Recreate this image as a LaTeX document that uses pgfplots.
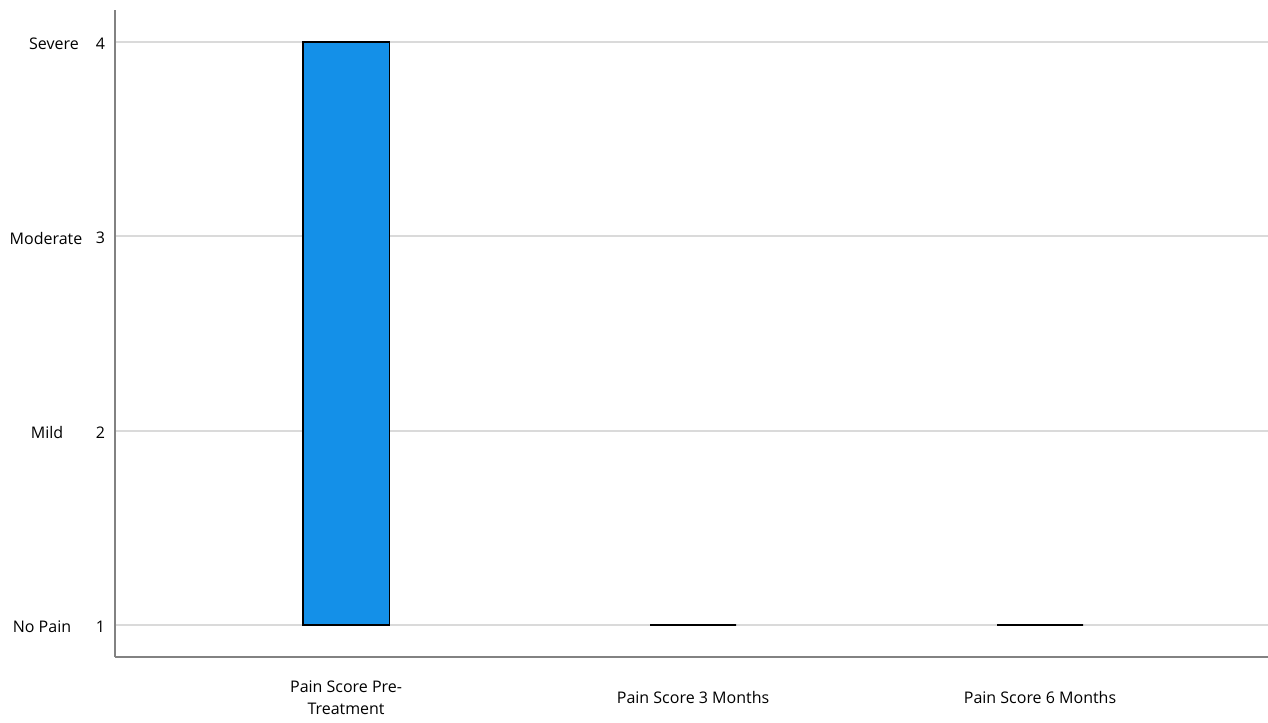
\documentclass[border=0pt]{standalone}
\usepackage{fontspec}
\setmainfont{Open Sans}
\usepackage{pgfplots}
\pgfplotsset{compat=1.18}
\usepgfplotslibrary{statistics}
\definecolor{boxblue}{RGB}{20,144,232}
\definecolor{gridgray}{RGB}{218,218,218}
\definecolor{axisgray}{RGB}{130,130,130}
\newcommand\lblfont{\fontsize{12}{17}\selectfont}
\begin{document}
\begin{tikzpicture}
\begin{axis}[
  scale only axis,
  width=864.75pt, height=485.25pt,
  xmin=-0.666, xmax=2.657,
  ymin=0.835, ymax=4.165,
  axis x line*=bottom, axis y line*=left,
  axis line style={axisgray, line width=1.2pt, -},
  xtick={0,1,2},
  xticklabels={{Pain Score Pre-\\Treatment},{Pain Score 3 Months},{Pain Score 6 Months}},
  xticklabel style={align=center, font=\lblfont, anchor=center, yshift=-30.5pt},
  ytick={1,2,3,4},
  yticklabel style={font=\lblfont, xshift=-4pt, yshift=-1.2pt},
  /pgf/number format/assume math mode=true,
  major tick length=0pt,
  ymajorgrids,
  grid style={gridgray, line width=1.4pt},
  clip=false,
  boxplot/draw direction=y,
  boxplot/box extend=0.248,
  boxplot/whisker extend=0,
]
% Pre-treatment: scores spread over the full range
\addplot[draw=black, line width=0.9pt, fill=boxblue,
  boxplot prepared={draw position=0,
    lower whisker=1, lower quartile=1, median=4,
    upper quartile=4, upper whisker=4},
  boxplot/every median/.style={line width=1.4pt}]
  coordinates {};
% 3 months
\addplot[draw=black, line width=1.4pt, fill=boxblue,
  boxplot prepared={draw position=1,
    lower whisker=1, lower quartile=1, median=1,
    upper quartile=1, upper whisker=1}]
  coordinates {};
% 6 months
\addplot[draw=black, line width=1.4pt, fill=boxblue,
  boxplot prepared={draw position=2,
    lower whisker=1, lower quartile=1, median=1,
    upper quartile=1, upper whisker=1}]
  coordinates {};
% category names beside the numeric scale
\foreach \v/\t/\s in {1/No Pain/-54.75pt,2/Mild/-51pt,3/Moderate/-51.75pt,4/Severe/-45.75pt}{
  \edef\tmp{\noexpand\node[font=\noexpand\lblfont, anchor=center, xshift=\s, yshift=-1.5pt]
    at (axis cs:-0.666,\v) {\t};}\tmp
}
\end{axis}
\pgfresetboundingbox
\path ([xshift=-86.25pt,yshift=-48.75pt]current axis.south west) rectangle ([yshift=7.5pt]current axis.north east);
\end{tikzpicture}
\end{document}
